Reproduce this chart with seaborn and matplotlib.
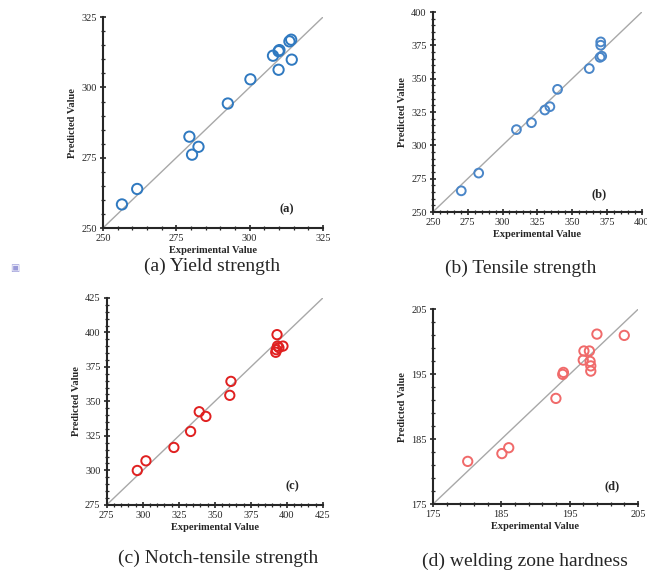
import pandas as pd
import seaborn as sns
import matplotlib.pyplot as plt
from matplotlib.ticker import MultipleLocator, AutoMinorLocator

# (a) yield strength
yield_exp = [256.5, 261.7, 279.5, 280.4, 282.6, 292.6, 300.3, 308.0, 309.9, 310.2, 309.9, 313.6, 314.2, 314.4]
yield_pred = [258.4, 263.9, 282.5, 276.1, 278.9, 294.3, 302.9, 311.3, 312.9, 313.3, 306.3, 316.4, 317.0, 309.9]

# (b) tensile strength
tensile_exp = [270.4, 282.9, 310.0, 320.8, 330.4, 334.0, 339.5, 362.3, 370.5, 370.5, 371.2, 370.0]
tensile_pred = [265.9, 279.2, 311.8, 317.0, 326.5, 329.0, 342.0, 357.6, 377.6, 375.1, 366.9, 366.0]

# (c) notch-tensile strength
notch_exp = [296.2, 302.2, 321.6, 333.2, 339.2, 343.8, 360.4, 361.2, 393.2, 392.7, 392.3, 397.3, 394.5, 393.5]
notch_pred = [299.9, 306.9, 316.6, 328.2, 342.5, 339.1, 354.4, 364.5, 398.4, 387.5, 385.6, 390.1, 389.0, 390.1]

# (d) welding zone hardness
hard_exp = [180.1, 185.1, 186.1, 193.0, 194.0, 194.1, 197.0, 197.1, 197.9, 198.0, 198.1, 198.1, 199.0, 203.0]
hard_pred = [181.6, 182.8, 183.7, 191.3, 195.0, 195.3, 197.2, 198.6, 198.6, 197.0, 196.3, 195.5, 201.2, 201.0]

panels = [
    dict(x=yield_exp, y=yield_pred, lim=(250, 325), step=25, color='#2f79c0', tag='(a)', tagx=0.87,
         caption='(a) Yield strength', pos=[0.159, 0.602, 0.340, 0.368], s=55, cap=(0.328, 0.520)),
    dict(x=tensile_exp, y=tensile_pred, lim=(250, 400), step=25, color='#4a86c8', tag='(b)', tagx=0.83,
         caption='(b) Tensile strength', pos=[0.669, 0.630, 0.323, 0.349], s=40, cap=(0.804, 0.516)),
    dict(x=notch_exp, y=notch_pred, lim=(275, 425), step=25, color='#e02020', tag='(c)', tagx=0.89,
         caption='(c) Notch-tensile strength', pos=[0.165, 0.119, 0.334, 0.361], s=45, cap=(0.337, 0.010)),
    dict(x=hard_exp, y=hard_pred, lim=(175, 205), step=10, color='#f06a6a', tag='(d)', tagx=0.91,
         caption='(d) welding zone hardness', pos=[0.669, 0.120, 0.317, 0.340], s=45, cap=(0.812, 0.006)),
]

sns.set_style('ticks')
plt.rcParams['font.family'] = ['Liberation Serif', 'DejaVu Serif']

fig = plt.figure(figsize=(6.47, 5.73), dpi=100)

for p in panels:
    ax = fig.add_axes(p['pos'])
    df = pd.DataFrame({'exp': p['x'], 'pred': p['y']})
    lo, hi = p['lim']
    ax.plot([lo, hi], [lo, hi], color='#a8a8a8', lw=1.0, zorder=1)
    sns.scatterplot(data=df, x='exp', y='pred', ax=ax, s=p['s'], marker='o',
                    facecolor='none', edgecolor=p['color'], linewidth=1.4, zorder=3)
    ax.set_xlim(lo, hi)
    ax.set_ylim(lo, hi)
    ax.xaxis.set_major_locator(MultipleLocator(p['step'], offset=lo))
    ax.yaxis.set_major_locator(MultipleLocator(p['step'], offset=lo))
    ax.xaxis.set_minor_locator(AutoMinorLocator(5))
    ax.yaxis.set_minor_locator(AutoMinorLocator(5))
    ax.tick_params(which='major', direction='inout', length=5, width=1.2, labelsize=7.5, pad=2)
    ax.tick_params(which='minor', direction='inout', length=3, width=0.9)
    for side in ['top', 'right']:
        ax.spines[side].set_visible(False)
    for side in ['left', 'bottom']:
        ax.spines[side].set_linewidth(1.5)
    ax.set_xlabel('Experimental Value', fontsize=7.5, fontweight='bold', labelpad=2)
    ax.set_ylabel('Predicted Value', fontsize=7.5, fontweight='bold', labelpad=3)
    ax.text(p['tagx'], 0.06, p['tag'], transform=ax.transAxes, ha='right', va='bottom',
            fontsize=9, fontweight='bold')
    fig.text(p['cap'][0], p['cap'][1], p['caption'], ha='center', va='bottom', fontsize=14)

# small marker glyph on the left margin
fig.text(0.023, 0.532, '\u25a3', color='#9a9ad8', fontsize=7, ha='center', va='center',
         family=['DejaVu Sans'])

fig.savefig('out.png', dpi=100)
